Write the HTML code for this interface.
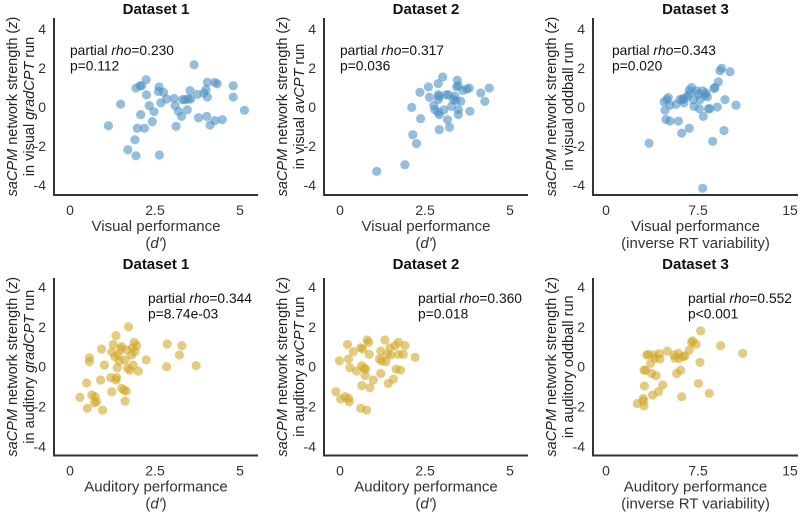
<!DOCTYPE html>
<html><head><meta charset="utf-8"><style>
body{margin:0;background:#fff}
svg{display:block;font-family:"Liberation Sans",Arial,sans-serif}
</style></head><body>
<svg id="fig" width="800" height="514" viewBox="0 0 800 514"></svg>
<script>
const p1x=[1.13,1.49,1.94,2.06,2.11,2.24,2.25,2.33,2.47,2.08,1.98,2.19,2.42,1.91,1.70,1.94,2.63,2.62,2.60,2.75,2.67,2.84,3.06,3.09,3.19,3.28,3.12,3.31,3.38,3.48,3.55,3.45,3.53,3.65,3.75,3.78,3.94,4.00,4.04,4.04,4.02,4.12,4.26,4.48,4.26,4.33,4.80,4.80,5.13];
const p1y=[-0.96,0.15,0.97,1.09,1.09,1.40,0.62,0.07,-0.24,-0.39,-1.09,-1.09,-0.75,-1.68,-2.19,-2.50,-2.46,1.03,0.80,0.75,0.21,0.41,0.44,0.07,-0.22,-0.48,-0.99,0.38,0.38,0.41,0.41,-0.14,0.84,2.17,0.65,-0.55,0.72,0.89,1.27,0.51,-0.48,-0.92,-0.70,-0.65,1.26,1.19,1.09,0.51,-0.17];
const p2x=[1.08,1.91,2.25,2.14,2.37,2.11,2.35,2.60,2.63,2.76,2.79,2.89,2.89,2.92,2.89,2.92,2.92,3.02,2.89,3.06,3.12,3.16,3.19,3.22,3.28,3.33,3.38,3.41,3.43,3.45,3.48,3.48,3.48,3.55,3.61,3.73,3.80,3.82,4.14,4.26,4.39];
const p2y=[-3.30,-2.96,-1.88,-1.42,-0.60,-0.02,0.75,1.03,0.50,0.07,-0.14,0.63,0.38,0.55,-0.27,-0.39,-1.16,1.54,1.20,-0.14,0.63,-0.65,0.63,-1.04,0.03,0.38,0.55,0.34,1.03,1.37,1.09,-0.14,-0.39,0.29,0.85,0.92,0.97,-0.22,0.72,0.29,0.97];
const p3x=[3.51,4.73,4.81,4.95,5.08,5.22,4.89,5.22,5.71,5.90,6.03,6.25,6.30,6.17,6.36,6.58,6.79,6.79,6.79,6.98,7.12,7.17,7.39,7.53,7.61,7.66,7.88,7.93,8.07,8.15,8.26,8.34,8.48,8.70,8.80,8.89,9.08,9.16,9.29,9.43,9.62,9.70,10.11,10.60,7.88];
const p3y=[-1.86,0.26,-0.17,0.38,0.48,0.09,-0.64,-0.72,0.14,-0.72,0.38,0.43,0.38,-1.34,0.21,0.52,0.66,0.86,-1.09,1.00,0.38,0.03,0.83,0.66,-0.09,0.38,-4.17,-0.48,0.60,0.72,0.52,-0.09,-0.09,-1.76,0.95,1.00,0.00,1.29,1.86,1.98,-1.21,0.38,1.81,0.09,0.83];
const p4x=[0.29,0.51,0.49,0.57,0.57,0.64,0.74,0.72,0.78,0.90,0.96,0.93,1.01,1.23,1.20,1.35,1.37,1.23,1.27,1.35,1.32,1.42,1.39,1.45,1.49,1.52,1.52,1.59,1.62,1.65,1.62,1.69,1.72,1.76,1.81,1.84,1.86,1.89,1.91,1.96,2.01,2.24,2.84,2.86,3.22,3.29,3.71,1.67];
const p4y=[-1.54,-2.09,-0.82,0.45,0.25,-1.42,-1.51,-1.81,-1.76,-0.67,-2.18,0.89,0.08,-1.26,-0.55,-0.67,-0.55,0.75,1.12,1.56,0.50,0.59,-0.05,0.28,0.89,1.01,-1.09,-1.17,-1.73,-1.22,0.34,-0.08,2.01,-0.17,0.59,0.95,0.08,1.22,0.75,1.06,-0.22,0.34,0.00,1.14,0.59,1.06,0.05,0.84];
const p5x=[-0.12,0.02,-0.02,0.15,0.25,0.27,0.22,0.25,0.29,0.39,0.49,0.61,0.67,0.64,0.64,0.71,0.74,0.76,0.80,0.84,0.86,0.61,0.78,0.88,0.98,1.16,1.20,1.23,1.20,1.32,1.35,1.39,1.42,1.47,1.49,1.57,1.62,1.65,1.72,1.72,1.78,1.86,1.91,2.21];
const p5y=[-1.26,-1.62,0.30,-1.51,-1.59,-1.76,1.12,0.39,-0.05,0.75,-0.22,0.95,0.89,-0.95,0.05,-0.08,-0.45,-0.12,1.34,1.22,0.62,-2.09,-2.18,-1.06,-0.67,0.39,0.79,0.28,-0.34,1.34,0.25,0.62,-0.84,0.95,0.59,-0.62,1.06,-0.12,1.22,0.62,-0.17,0.62,1.06,0.47];
const p6x=[2.55,3.04,3.04,3.10,3.10,3.13,3.32,3.45,3.64,3.72,3.80,3.91,3.99,4.08,4.27,4.35,4.40,4.62,5.00,5.54,5.62,5.76,5.90,5.98,6.09,6.17,6.44,6.79,6.98,7.07,7.34,7.53,7.66,7.72,8.42,9.35,11.14,6.30,3.23];
const p6y=[-1.85,-1.73,-1.60,-1.97,-0.17,-0.97,0.59,0.62,0.17,-0.34,-1.43,0.59,0.42,-0.45,-1.26,0.66,0.39,-0.92,0.79,0.59,0.42,-0.34,0.67,0.42,-0.17,-1.51,0.55,0.84,1.23,1.29,1.13,-0.84,0.22,1.80,-1.34,1.06,0.67,0.50,-0.17];
const xTicksA=[0,2.5,5];
const xTicksB=[0,7.5,15];
const yTicks=[4,2,0,-2,-4];
const stats=[["0.230","p=0.112"],["0.317","p=0.036"],["0.343","p=0.020"],["0.344","p=8.74e-03"],["0.360","p=0.018"],["0.552","p<0.001"]];

const NS="http://www.w3.org/2000/svg";
const svg=document.getElementById('fig');
function mk(tag,attrs,parent,text){const e=document.createElementNS(NS,tag);for(const k in attrs)e.setAttribute(k,attrs[k]);if(text!==undefined)e.textContent=text;(parent||svg).appendChild(e);return e;}

const panels=[
 {xs:p1x,ys:p1y,ax:54,x0:70,x1:240,xmax:5,end:258,top:true,col:"#4f93c4",title:"Dataset 1",run:"gradCPT",mod:"visual",xl:"Visual performance",xl2:"(d')",ticks:xTicksA,tx:70},
 {xs:p2x,ys:p2y,ax:324,x0:340,x1:510,xmax:5,end:528,top:true,col:"#4f93c4",title:"Dataset 2",run:"avCPT",mod:"visual",xl:"Visual performance",xl2:"(d')",ticks:xTicksA,tx:340},
 {xs:p3x,ys:p3y,ax:593,x0:606,x1:790,xmax:15,end:798,top:true,col:"#4f93c4",title:"Dataset 3",run:"oddball",mod:"visual",xl:"Visual performance",xl2:"(inverse RT variability)",ticks:xTicksB,tx:612},
 {xs:p4x,ys:p4y,ax:54,x0:70,x1:240,xmax:5,end:258,top:false,col:"#d2a82a",title:"Dataset 1",run:"gradCPT",mod:"auditory",xl:"Auditory performance",xl2:"(d')",ticks:xTicksA,tx:148},
 {xs:p5x,ys:p5y,ax:324,x0:340,x1:510,xmax:5,end:528,top:false,col:"#d2a82a",title:"Dataset 2",run:"avCPT",mod:"auditory",xl:"Auditory performance",xl2:"(d')",ticks:xTicksA,tx:418},
 {xs:p6x,ys:p6y,ax:593,x0:606,x1:790,xmax:15,end:798,top:false,col:"#d2a82a",title:"Dataset 3",run:"oddball",mod:"auditory",xl:"Auditory performance",xl2:"(inverse RT variability)",ticks:xTicksB,tx:688}
];

panels.forEach((p,i)=>{
 const g=mk('g',{});
 
 
 const y0=p.top?107:366.7, su=p.top?19.5:19.9, xa=p.top?195:455.5, yt=p.top?18:278;
 const off=p.top?0:255;
 const sx=v=>p.x0+(p.x1-p.x0)*v/p.xmax;
 const sy=v=>y0-su*v;
 const cx=(p.ax+p.end)/2;
 const t=mk('text',{x:cx,y:off+14,'text-anchor':'middle','font-size':15,'font-weight':'bold',fill:'#111'},g,p.title);
 
 
 p.xs.forEach((xv,j)=>{
  const c=mk('circle',{cx:sx(xv),cy:sy(p.ys[j]),r:4.6,fill:p.col,'fill-opacity':0.6},g);
  
  
 });
 const ya=mk('line',{x1:p.ax,y1:yt,x2:p.ax,y2:xa,stroke:'#333','stroke-width':2},g);
 
 
 const xl=mk('line',{x1:p.ax-1,y1:xa,x2:p.end,y2:xa,stroke:'#333','stroke-width':2},g);
 
 
 yTicks.forEach(v=>{
  const e=mk('text',{x:p.ax-8,y:sy(v)+5,'text-anchor':'end','font-size':14,fill:'#333'},g,String(v));
  
  
 });
 p.ticks.forEach(v=>{
  const e=mk('text',{x:sx(v),y:xa+20,'text-anchor':'middle','font-size':14,fill:'#333'},g,String(v));
  
  
 });
 const l1=mk('text',{x:cx,y:xa+36,'text-anchor':'middle','font-size':15,fill:'#333'},g,p.xl);
 
 
 const l2=mk('text',{x:cx,y:xa+53,'text-anchor':'middle','font-size':15,fill:'#333'},g);
 
 
 if(p.xl2==="(d')"){l2.textContent='(';mk('tspan',{'font-style':'italic'},l2,"d'");mk('tspan',{},l2,')');}else l2.textContent=p.xl2;
 const ycx=p.ax-32, ymid=(yt+xa)/2;
 const yl=mk('text',{transform:`translate(${ycx-5},${ymid}) rotate(-90)`,'text-anchor':'middle','font-size':14.5,fill:'#222'},g);
 
 
 mk('tspan',{'font-style':'italic'},yl,'saCPM');mk('tspan',{},yl,' network strength (');mk('tspan',{'font-style':'italic'},yl,'z');mk('tspan',{},yl,')');
 const yl2=mk('text',{transform:`translate(${ycx+12},${ymid}) rotate(-90)`,'text-anchor':'middle','font-size':14.5,fill:'#222'},g);
 
 
 mk('tspan',{},yl2,'in '+p.mod+' ');
 if(p.run==='oddball')mk('tspan',{},yl2,'oddball run');else{mk('tspan',{'font-style':'italic'},yl2,p.run);mk('tspan',{},yl2,' run');}
 const sb=p.top?55:303;
 const s1=mk('text',{x:p.tx,y:sb,'font-size':13.8,fill:'#111'},g);
 
 
 mk('tspan',{},s1,'partial ');mk('tspan',{'font-style':'italic'},s1,'rho');mk('tspan',{},s1,'='+stats[i][0]);
 const s2=mk('text',{x:p.tx,y:sb+15.5,'font-size':13.8,fill:'#111'},g,stats[i][1]);
 
 
});
</script>
</body></html>
